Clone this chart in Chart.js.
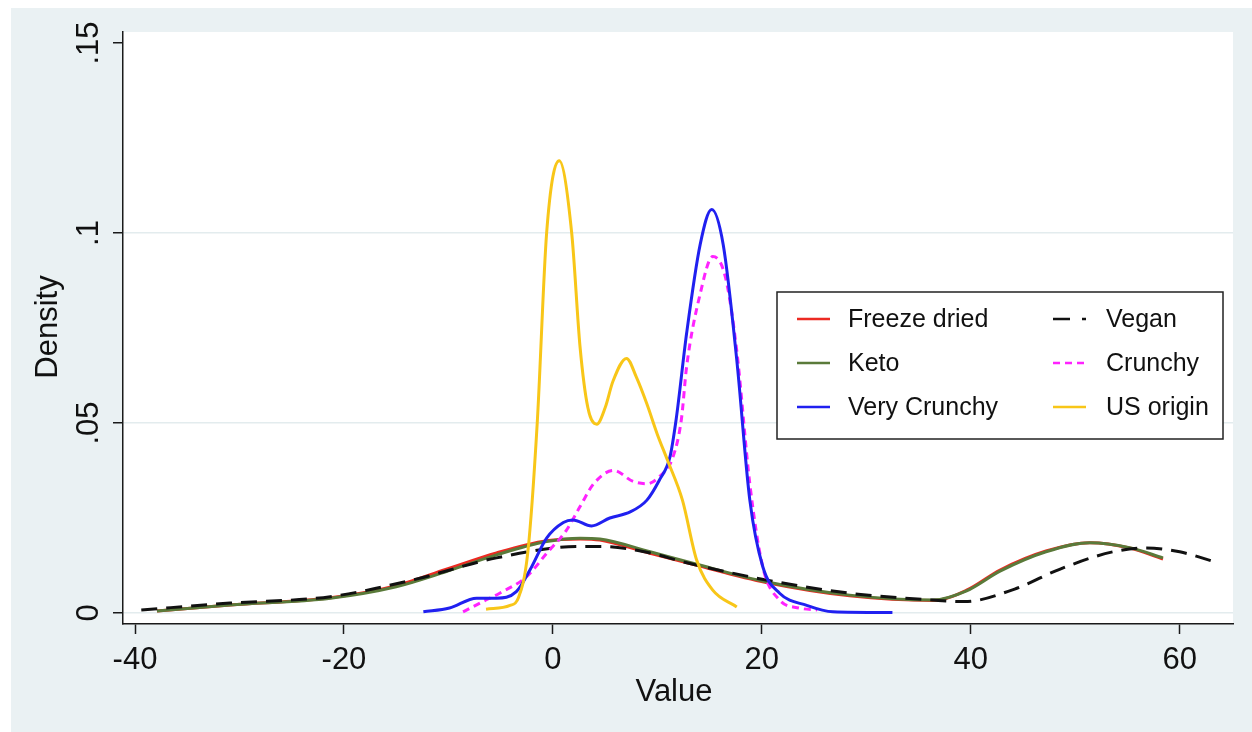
<!DOCTYPE html>
<html>
<head>
<meta charset="utf-8">
<script src="https://cdn.jsdelivr.net/npm/chart.js@4"></script>
<style>
  html, body { margin: 0; padding: 0; background: #fff; }
</style>
</head>
<body>
<canvas id="densityChart" width="1252" height="732"></canvas>
<script>
// kernel density curves (x = value, y = density)
const freezeX = [-37.9, -30.9, -21.3, -15, -10.2, -5.4, -0.6, 2.6, 4.5, 9.3, 13.4, 20.4, 28.4, 36.4, 39.6, 42.8, 47.2, 51.4, 55.2, 58.4];
const freezeY = [0.0005, 0.0021, 0.004, 0.0072, 0.0115, 0.0158, 0.019, 0.0195, 0.0192, 0.0157, 0.0128, 0.008, 0.0045, 0.0033, 0.006, 0.0113, 0.0163, 0.0185, 0.0171, 0.0142];

const ketoX = [-37.9, -30.9, -21.3, -15, -10.2, -5.4, -0.6, 2.6, 4.5, 9.3, 13.4, 20.4, 28.4, 36.4, 39.6, 42.8, 47.2, 51.4, 55.2, 58.4];
const ketoY = [0.0005, 0.0021, 0.0039, 0.0069, 0.0109, 0.0153, 0.0188, 0.0197, 0.0195, 0.0161, 0.0131, 0.0082, 0.0047, 0.0034, 0.0058, 0.011, 0.0161, 0.0185, 0.0172, 0.0145];

const veryCrunchyX = [-12.4, -9.9, -7.3, -5.4, -3.5, -2.2, -0.6, 1.0, 1.9, 3.7, 5.45, 7.4, 9.0, 10.2, 11.2, 11.8, 12.8, 14.1, 15.2, 16.3, 17.6, 18.85, 20.1, 21.7, 24.3, 26.8, 32.5];
const veryCrunchyY = [0.0003, 0.0013, 0.0039, 0.0039, 0.0056, 0.0113, 0.0197, 0.0238, 0.0245, 0.0229, 0.025, 0.0266, 0.0297, 0.035, 0.041, 0.051, 0.0736, 0.097, 0.1062, 0.097, 0.0666, 0.0297, 0.0121, 0.0052, 0.002, 0.0003, 0.0001];

const veganX = [-39.4, -30.9, -21.3, -13.4, -5.4, 2.5, 4.5, 9.3, 12.4, 20.4, 28.4, 36.4, 39.4, 44.2, 48.5, 53.6, 56.8, 60, 63.3];
const veganY = [0.0008, 0.0026, 0.0043, 0.0087, 0.0145, 0.0175, 0.0175, 0.0158, 0.0135, 0.0087, 0.0052, 0.0034, 0.003, 0.0063, 0.0115, 0.0161, 0.0171, 0.0161, 0.0135];

const crunchyX = [-8.6, -6.7, -5.1, -2.5, -0.6, 1.3, 2.6, 3.9, 5.8, 7.7, 9.0, 10.2, 11.5, 12.3, 12.8, 14.1, 15.3, 16.5, 17.6, 18.85, 20.1, 21.7, 23.6, 25.3];
const crunchyY = [0.0003, 0.003, 0.0052, 0.0096, 0.0157, 0.0218, 0.028, 0.034, 0.0375, 0.0346, 0.034, 0.0359, 0.0411, 0.051, 0.0648, 0.084, 0.0938, 0.0885, 0.069, 0.034, 0.012, 0.0034, 0.0013, 0.0008];

const usX = [-6.4, -4.1, -3.3, -2.4, -1.5, -0.6, 0.6, 1.8, 2.6, 3.35, 4.2, 5.0, 5.75, 7.05, 8.0, 9.0, 10.0, 11.0, 12.4, 13.75, 15.3, 17.6];
const usY = [0.001, 0.002, 0.004, 0.016, 0.05, 0.1, 0.119, 0.1, 0.07, 0.054, 0.0497, 0.054, 0.061, 0.067, 0.062, 0.055, 0.047, 0.04, 0.0297, 0.014, 0.006, 0.0016];

const xTicks = [-40, -20, 0, 20, 40, 60];
const yTicks = [0, 0.05, 0.1, 0.15];
const yTickLabels = ["0", ".05", ".1", ".15"];

const FONT = "'Liberation Sans', Arial, Helvetica, sans-serif";
const INK = "#111111";

function pts(xs, ys) {
    return xs.map((x, i) => ({ x: x, y: ys[i] }));
}

// legend entries, laid out two per row like the original
const legendItems = [
    { label: "Freeze dried", color: "#ec2a22", dash: [] },
    { label: "Vegan", color: "#111111", dash: [17, 12] },
    { label: "Keto", color: "#5a7a3a", dash: [] },
    { label: "Crunchy", color: "#ff22ff", dash: [7, 5] },
    { label: "Very Crunchy", color: "#2020f0", dash: [] },
    { label: "US origin", color: "#f8c618", dash: [] },
];

const bgPlugin = {
    id: "stataBackground",
    beforeDraw(chart) {
        const { ctx, chartArea: a } = chart;
        ctx.save();
        ctx.fillStyle = "#ffffff";
        ctx.fillRect(0, 0, chart.width, chart.height);
        ctx.fillStyle = "#eaf1f3";
        ctx.fillRect(11, 8, chart.width - 11, chart.height - 8);
        ctx.fillStyle = "#ffffff";
        ctx.fillRect(a.left, a.top, a.right - a.left, a.bottom - a.top);
        ctx.restore();
    },
};

const textPlugin = {
    id: "stataText",
    afterDraw(chart) {
        const { ctx } = chart;
        const yScale = chart.scales.y;
        ctx.save();
        ctx.fillStyle = INK;
        ctx.font = "31px " + FONT;

        // rotated y tick labels
        ctx.textAlign = "center";
        ctx.textBaseline = "alphabetic";
        yTicks.forEach((v, i) => {
            ctx.save();
            ctx.translate(98, yScale.getPixelForValue(v));
            ctx.rotate(-Math.PI / 2);
            ctx.fillText(yTickLabels[i], 0, 0);
            ctx.restore();
        });

        // axis titles
        ctx.save();
        ctx.translate(57, 327);
        ctx.rotate(-Math.PI / 2);
        ctx.fillText("Density", 0, 0);
        ctx.restore();
        ctx.fillText("Value", 674, 701);

        // legend box
        const bx = 777, by = 292, bw = 446, bh = 147;
        ctx.fillStyle = "#ffffff";
        ctx.fillRect(bx, by, bw, bh);
        ctx.strokeStyle = "#222222";
        ctx.lineWidth = 1.5;
        ctx.strokeRect(bx, by, bw, bh);

        ctx.font = "25px " + FONT;
        ctx.textAlign = "left";
        ctx.textBaseline = "middle";
        const rowsY = [319, 363, 407];
        const cols = [{ s: 797, t: 848 }, { s: 1053, t: 1106 }];
        legendItems.forEach((it, i) => {
            const c = cols[i % 2], y = rowsY[Math.floor(i / 2)];
            ctx.strokeStyle = it.color;
            ctx.lineWidth = 2.5;
            ctx.setLineDash(it.dash);
            ctx.beginPath();
            ctx.moveTo(c.s, y);
            ctx.lineTo(c.s + 33, y);
            ctx.stroke();
            ctx.setLineDash([]);
            ctx.fillStyle = INK;
            ctx.fillText(it.label, c.t, y + 1);
        });
        ctx.restore();
    },
};

function series(label, xs, ys, color, dash, order) {
    return {
        label: label,
        data: pts(xs, ys),
        borderColor: color,
        borderWidth: 3,
        borderDash: dash,
        pointRadius: 0,
        fill: false,
        cubicInterpolationMode: "monotone",
        order: order,
    };
}

const ctx = document.getElementById("densityChart").getContext("2d");
const densityChart = new Chart(ctx, {
    type: "line",
    data: {
        datasets: [
            series("Freeze dried", freezeX, freezeY, "#ec2a22", [], 6),
            series("Vegan", veganX, veganY, "#111111", [16, 9], 4),
            series("Keto", ketoX, ketoY, "#5a7a3a", [], 5),
            series("Crunchy", crunchyX, crunchyY, "#ff22ff", [7, 5], 3),
            series("Very Crunchy", veryCrunchyX, veryCrunchyY, "#2020f0", [], 2),
            series("US origin", usX, usY, "#f8c618", [], 1),
        ],
    },
    options: {
        responsive: false,
        animation: false,
        devicePixelRatio: 1,
        layout: { padding: { top: 32, right: 19, left: 0, bottom: 0 } },
        plugins: {
            legend: { display: false },
            tooltip: { enabled: false },
        },
        scales: {
            x: {
                type: "linear",
                min: -41.15,
                max: 65.1,
                afterBuildTicks: (s) => { s.ticks = xTicks.map((v) => ({ value: v })); },
                afterFit: (s) => { s.height = 108; },
                grid: {
                    drawOnChartArea: false,
                    drawTicks: true,
                    tickLength: 10,
                    tickColor: "#1a1a1a",
                    tickWidth: 1.5,
                },
                border: { display: true, color: "#1a1a1a", width: 1.5 },
                ticks: {
                    color: INK,
                    font: { family: FONT, size: 31 },
                    padding: 8,
                    maxRotation: 0,
                    autoSkip: false,
                    callback: (v) => String(v),
                },
            },
            y: {
                type: "linear",
                min: -0.0029,
                max: 0.1529,
                afterBuildTicks: (s) => { s.ticks = yTicks.map((v) => ({ value: v })); },
                afterFit: (s) => { s.width = 123; },
                grid: {
                    color: (c) => (c.tick && c.tick.value < 0.14 ? "#e3ecee" : "rgba(0,0,0,0)"),
                    lineWidth: 1.5,
                    drawTicks: true,
                    tickLength: 10,
                    tickColor: "#1a1a1a",
                    tickWidth: 1.5,
                },
                border: { display: true, color: "#1a1a1a", width: 1.5 },
                ticks: { display: false },
            },
        },
    },
    plugins: [bgPlugin, textPlugin],
});
</script>
</body>
</html>
